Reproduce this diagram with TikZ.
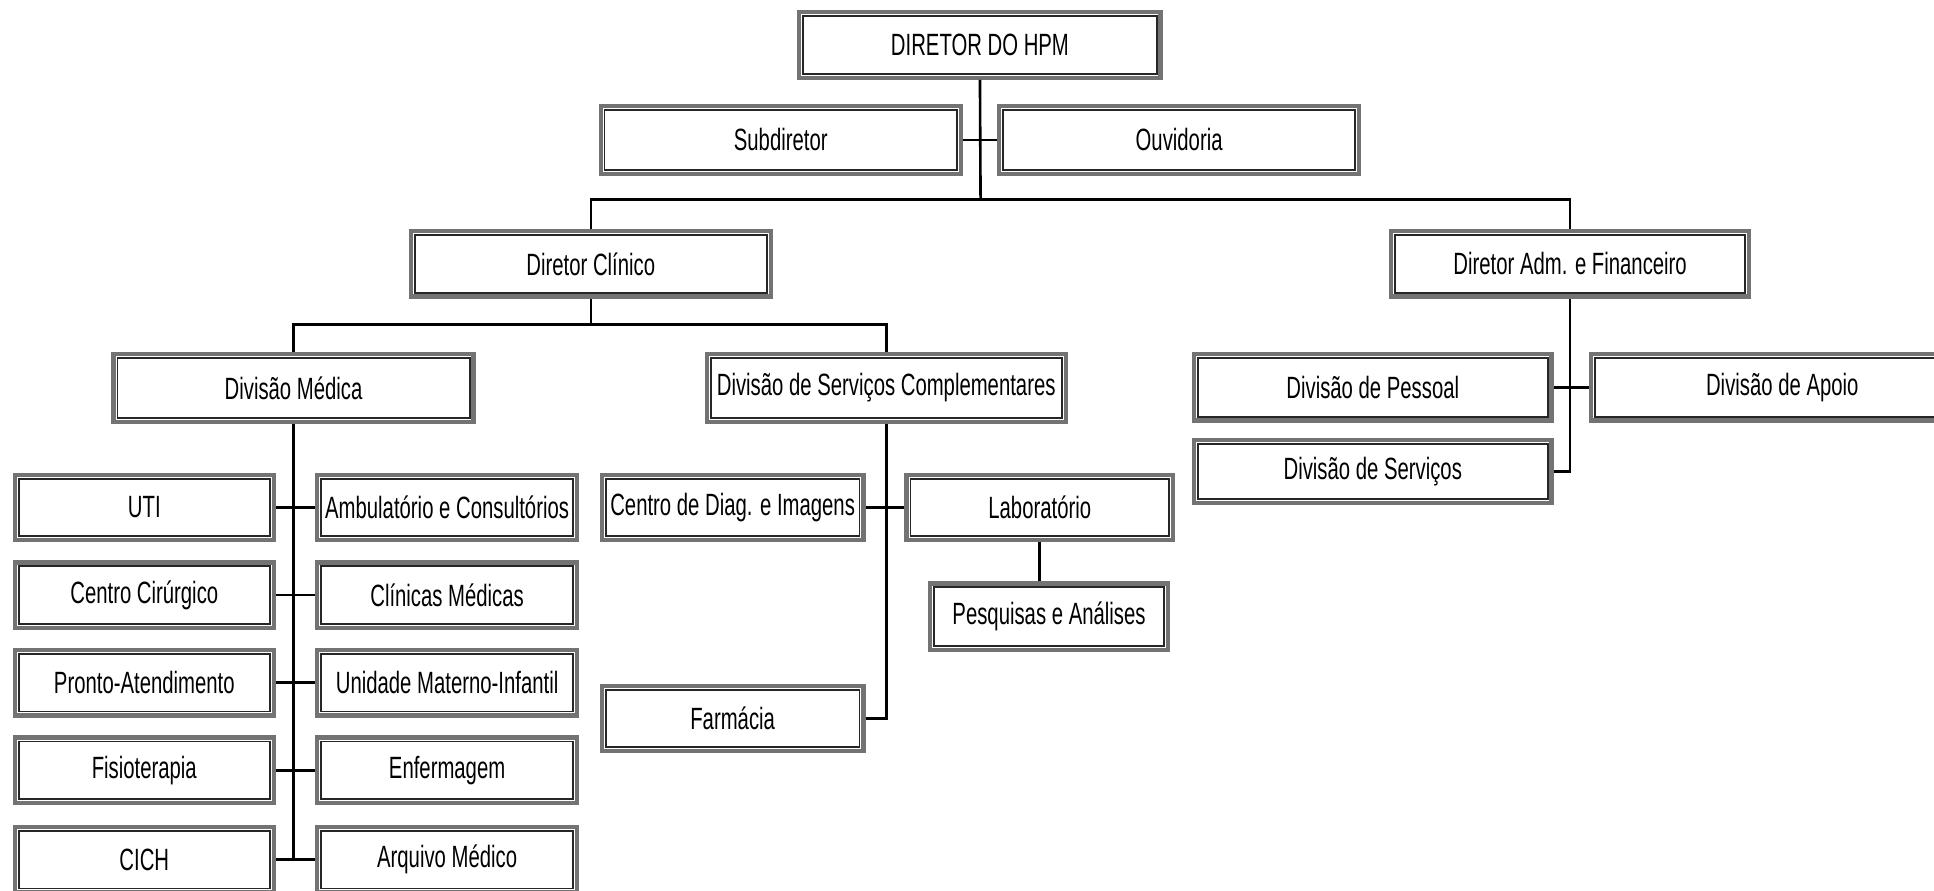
\documentclass[tikz,border=0pt]{standalone}
\usepackage{fontspec}
\setmainfont{Liberation Sans}[FakeStretch=0.66]
\begin{document}
\begin{tikzpicture}[x=0.1mm,y=-0.1mm,
  bx/.style={draw=black!55, line width=1.0pt, fill=white, minimum height=5.3mm, inner sep=0pt,
    font=\fontsize{7.1}{8}\selectfont},
  inr/.style={draw=black!85, line width=0.4pt},
  ln/.style={draw=black, line width=0.6pt}]
\useasboundingbox (0,0) rectangle (1568,722);
\clip (0,0) rectangle (1568,722);
% top
\node[bx, minimum width=29.3mm] (dir) at (794.5,36.5) {DIRETOR DO HPM};
\node[bx, minimum width=29.2mm, minimum height=5.5mm] (sub) at (633,113.5) {Subdiretor};
\node[bx, minimum width=29.2mm, minimum height=5.5mm] (ouv) at (956,113.5) {Ouvidoria};
\node[bx, minimum width=29.2mm] (dc) at (479,214) {Diretor Clínico};
\node[bx, minimum width=29.0mm] (dadm) at (1273,214) {Diretor Adm. e Financeiro};
% level 3
\node[bx, minimum width=29.2mm, minimum height=5.5mm] (dm) at (238,314.5) {Divisão Médica};
\node[bx, minimum width=29.1mm, minimum height=5.5mm] (dsc) at (718.5,314.5) {Divisão de Serviços Complementares};
\node[bx, minimum width=29.0mm, minimum height=5.4mm] (dp) at (1113,314) {Divisão de Pessoal};
\node[bx, minimum width=31.0mm, minimum height=5.4mm] (dap) at (1445,314) {Divisão de Apoio};
\node[bx, minimum width=29.0mm, minimum height=5.1mm] (dserv) at (1113,382.5) {Divisão de Serviços};
% Divisão Médica columns
\node[bx, minimum width=21.0mm] (l1) at (117,411.5) {UTI};
\node[bx, minimum width=21.1mm] (r1) at (362.5,411.5) {Ambulatório e Consultórios};
\node[bx, minimum width=21.0mm] (l2) at (117,482.5) {Centro Cirúrgico};
\node[bx, minimum width=21.1mm] (r2) at (362.5,482.5) {Clínicas Médicas};
\node[bx, minimum width=21.0mm] (l3) at (117,553.5) {Pronto-Atendimento};
\node[bx, minimum width=21.1mm] (r3) at (362.5,553.5) {Unidade Materno-Infantil};
\node[bx, minimum width=21.0mm] (l4) at (117,624.5) {Fisioterapia};
\node[bx, minimum width=21.1mm] (r4) at (362.5,624.5) {Enfermagem};
\node[bx, minimum width=21.0mm] (l5) at (117,697) {CICH};
\node[bx, minimum width=21.1mm] (r5) at (362.5,697) {Arquivo Médico};
% Serviços Complementares
\node[bx, minimum width=21.2mm] (cdi) at (594,411.5) {Centro de Diag. e Imagens};
\node[bx, minimum width=21.6mm] (lab) at (843,411.5) {Laboratório};
\node[bx, minimum width=19.3mm, minimum height=5.4mm] (pesq) at (850.5,500) {Pesquisas e Análises};
\node[bx, minimum width=21.2mm] (farm) at (594,582.5) {Farmácia};
% inner frames
\foreach \n in {dir,sub,ouv,dc,dadm,dm,dsc,dp,dap,dserv,l1,r1,l2,r2,l3,r3,l4,r4,l5,r5,cdi,lab,pesq,farm}
  \draw[inr] ([shift={(1.4pt,-1.4pt)}]\n.north west) rectangle ([shift={(-1.4pt,1.4pt)}]\n.south east);
% connectors
\coordinate (bus1) at (795,162);
\coordinate (bus2) at (479,263);
\draw[ln] (dir.south) -- (bus1);
\draw[ln] (sub.east) -- (ouv.west);
\draw[ln] (dc.north) |- (bus1) -| (dadm.north);
\draw[ln] (dc.south) -- (bus2);
\draw[ln] (dm.north) |- (bus2) -| (dsc.north);
\draw[ln] (dm.south) -- (dm.south |- l5.east);
\foreach \i in {1,...,5} \draw[ln] (l\i.east) -- (r\i.west);
\draw[ln] (dsc.south) |- (farm.east);
\draw[ln] (cdi.east) -- (lab.west);
\draw[ln] (lab.south) -- (lab.south |- pesq.north);
\draw[ln] (dadm.south) |- (dserv.east);
\draw[ln] (dp.east) -- (dap.west);
\end{tikzpicture}
\end{document}
